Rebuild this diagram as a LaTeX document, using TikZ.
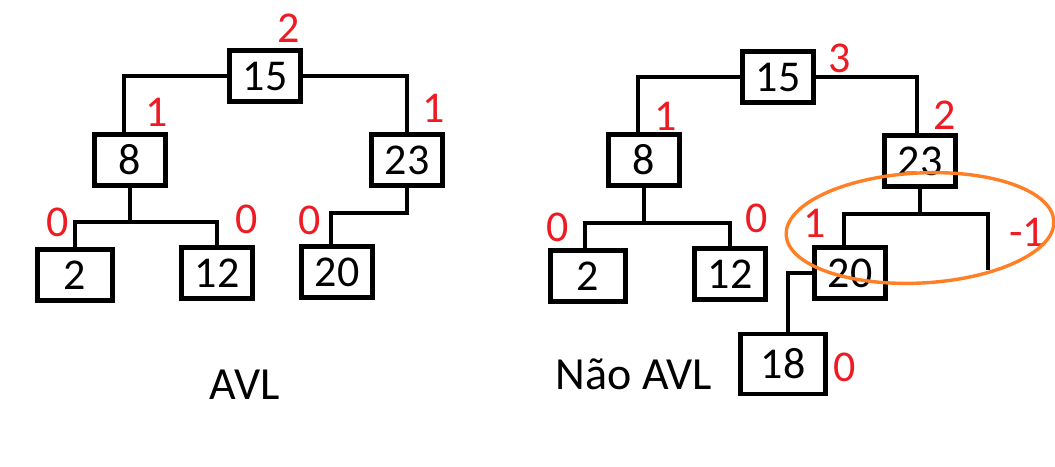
\documentclass[tikz,border=0pt]{standalone}
\usepackage{fontspec}
\setmainfont{Carlito}
\definecolor{paintred}{RGB}{237,28,36}
\definecolor{paintorange}{RGB}{255,127,39}
\tikzset{
	keybox/.style={draw, line width=4.4pt, minimum width=71pt, minimum height=51pt, inner sep=0pt, font=\fontsize{44}{44}\selectfont},
	balance/.style={text=paintred, inner sep=0pt, font=\fontsize{44}{44}\selectfont},
	branch/.style={line width=4.2pt},
	caption/.style={inner sep=0pt, font=\fontsize{46}{46}\selectfont},
}
\begin{document}
\begin{tikzpicture}[x=1pt, y=-1pt]
	\useasboundingbox (0,0) rectangle (1055,466);
	% AVL
	\node[keybox] (a15) at (265,76) {15};
	\node[keybox] (a8) at (130,160) {8};
	\node[keybox] (a23) at (407,160) {23};
	\node[keybox, minimum width=75pt] (a2) at (75,275) {2};
	\node[keybox] (a12) at (217,273) {12};
	\node[keybox] (a20) at (337,272) {20};
	\draw[branch] (a15.west) -| ([xshift=-6pt]a8.north);
	\draw[branch] (a15.east) -| (a23.north);
	\draw[branch] (a8.south) -- ++(0,34) coordinate (a8fork) -| (a2.north);
	\draw[branch] (a8fork) -| (a12.north);
	\draw[branch] (a23.south) -- ++(0,25) -| ([xshift=-6pt]a20.north);
	\node[balance] (ba15) at (289,28) {2};
	\node[balance] (ba8) at (157,112) {1};
	\node[balance] (ba23) at (434,108) {1};
	\node[balance] (ba2) at (58,222) {0};
	\node[balance] (ba12) at (247,219) {0};
	\node[balance] (ba20) at (310,220) {0};
	\node[caption] (avl) at (245,385) {AVL};
	% Nao AVL
	\node[keybox] (b15) at (778,77) {15};
	\node[keybox] (b8) at (644,160) {8};
	\node[keybox] (b23) at (920,161) {23};
	\node[keybox, minimum width=75pt] (b2) at (588,276) {2};
	\node[keybox] (b12) at (730,274) {12};
	\node[keybox] (b20) at (850,273) {20};
	\node[keybox, minimum width=85pt, minimum height=60pt] (b18) at (783,364) {18};
	\coordinate (b23gap) at (988,270);
	\draw[branch] (b15.west) -| ([xshift=-6pt]b8.north);
	\draw[branch] (b15.east) -| ([xshift=-3pt]b23.north);
	\draw[branch] (b8.south) -- ++(0,35) coordinate (b8fork) -| ([xshift=-3pt]b2.north);
	\draw[branch] (b8fork) -| (b12.north);
	\draw[branch] (b23.south) -- ++(0,25) coordinate (b23fork) -| ([xshift=-6pt]b20.north);
	\draw[branch] (b23fork) -| (b23gap);
	\draw[branch] (b20.west) -| ([xshift=5pt]b18.north);
	\node[balance] (bb15) at (840,58) {3};
	\node[balance] (bb8) at (666,116) {1};
	\node[balance] (bb23) at (945,115) {2};
	\node[balance] (bb2) at (558,227) {0};
	\node[balance] (bb12) at (757,218) {0};
	\node[balance] (bb20) at (815,223) {1};
	\node[balance] (bbgap) at (1027,232) {-1};
	\node[balance] (bb18) at (845,367) {0};
	\node[caption] (naoavl) at (634,374) {Não AVL};
	\draw[paintorange, line width=3.4pt] (920,228) ellipse [x radius=134pt, y radius=55pt, rotate=3];
\end{tikzpicture}
\end{document}
